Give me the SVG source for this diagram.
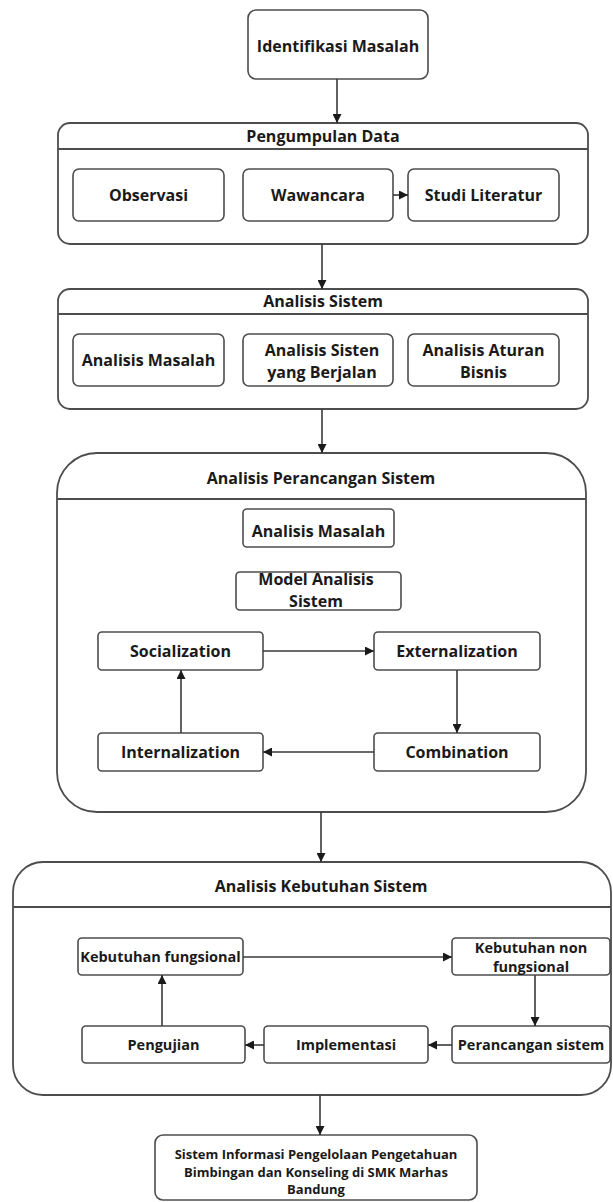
<svg xmlns="http://www.w3.org/2000/svg" width="613" height="1202" viewBox="0 0 613 1202">
<style>
.box{fill:#fff;stroke:#4d4d4d;stroke-width:1.6}
.cont{fill:#fff;stroke:#4d4d4d;stroke-width:1.8}
.sep{stroke:#4d4d4d;stroke-width:1.8;fill:none}
.t{font-family:"Open Sans","Liberation Sans",sans-serif;font-weight:bold;font-size:16px;fill:#1a1a1a;text-anchor:middle}
.k{font-size:14.5px}
.s{font-size:13px}
.c{stroke:#3a3a3a;stroke-width:1.6;fill:none;marker-end:url(#ah)}
</style>
<defs>
<marker id="ah" viewBox="0 0 10 10" refX="10" refY="5" markerWidth="9" markerHeight="9" markerUnits="userSpaceOnUse" orient="auto">
<path d="M0,0 L10,5 L0,10 z" fill="#1a1a1a"/>
</marker>
</defs>
<rect width="613" height="1202" fill="#fff"/>

<g id="identifikasi">
<rect class="box" x="248" y="10" width="180" height="69" rx="8"/>
<text class="t" x="338" y="52">Identifikasi Masalah</text>
</g>

<g id="pengumpulan-data">
<rect class="cont" x="58" y="123" width="530" height="121" rx="12"/>
<line class="sep" x1="58" y1="149" x2="588" y2="149"/>
<text class="t" x="323" y="142">Pengumpulan Data</text>
</g>
<g id="observasi">
<rect class="box" x="73" y="169" width="151" height="52" rx="6"/>
<text class="t" x="148.5" y="201">Observasi</text>
</g>
<g id="wawancara">
<rect class="box" x="243" y="169" width="150" height="52" rx="6"/>
<text class="t" x="318" y="201">Wawancara</text>
</g>
<g id="studi-literatur">
<rect class="box" x="408" y="169" width="151" height="52" rx="6"/>
<text class="t" x="483.5" y="201">Studi Literatur</text>
</g>

<g id="analisis-sistem">
<rect class="cont" x="58" y="289" width="530" height="120" rx="12"/>
<line class="sep" x1="58" y1="314" x2="588" y2="314"/>
<text class="t" x="323" y="307">Analisis Sistem</text>
</g>
<g id="analisis-masalah-1">
<rect class="box" x="73" y="334" width="151" height="52" rx="6"/>
<text class="t" x="148.5" y="366">Analisis Masalah</text>
</g>
<g id="analisis-sisten-berjalan">
<rect class="box" x="243" y="334" width="150" height="52" rx="6"/>
<text class="t" x="322" y="356">Analisis Sisten</text>
<text class="t" x="322" y="378">yang Berjalan</text>
</g>
<g id="analisis-aturan-bisnis">
<rect class="box" x="408" y="334" width="151" height="52" rx="6"/>
<text class="t" x="483.5" y="356">Analisis Aturan</text>
<text class="t" x="483.5" y="378">Bisnis</text>
</g>

<g id="analisis-perancangan">
<rect class="cont" x="57" y="453" width="529" height="359" rx="40"/>
<line class="sep" x1="57" y1="499" x2="586" y2="499"/>
<text class="t" x="321" y="484">Analisis Perancangan Sistem</text>
</g>
<g id="analisis-masalah-2">
<rect class="box" x="243" y="509" width="151" height="38" rx="4"/>
<text class="t" x="318.5" y="537">Analisis Masalah</text>
</g>
<g id="model-analisis-sistem">
<rect class="box" x="236" y="572" width="165" height="38" rx="4"/>
<text class="t" x="316" y="585">Model Analisis</text>
<text class="t" x="316" y="607">Sistem</text>
</g>
<g id="socialization">
<rect class="box" x="98" y="632" width="165" height="38" rx="4"/>
<text class="t" x="180.5" y="657">Socialization</text>
</g>
<g id="externalization">
<rect class="box" x="374" y="632" width="166" height="38" rx="4"/>
<text class="t" x="457" y="657">Externalization</text>
</g>
<g id="internalization">
<rect class="box" x="98" y="733" width="165" height="38" rx="4"/>
<text class="t" x="180.5" y="758">Internalization</text>
</g>
<g id="combination">
<rect class="box" x="374" y="733" width="166" height="38" rx="4"/>
<text class="t" x="457" y="758">Combination</text>
</g>

<g id="analisis-kebutuhan">
<rect class="cont" x="13" y="862" width="598" height="233" rx="30"/>
<line class="sep" x1="13" y1="907" x2="611" y2="907"/>
<text class="t" x="321" y="892">Analisis Kebutuhan Sistem</text>
</g>
<g id="kebutuhan-fungsional">
<rect class="box" x="78" y="938" width="165" height="37" rx="4"/>
<text class="t k" x="160.5" y="962">Kebutuhan fungsional</text>
</g>
<g id="kebutuhan-non-fungsional">
<rect class="box" x="452" y="938" width="158" height="37" rx="4"/>
<text class="t k" x="531" y="953">Kebutuhan non</text>
<text class="t k" x="531" y="972">fungsional</text>
</g>
<g id="perancangan-sistem">
<rect class="box" x="452" y="1026" width="158" height="37" rx="4"/>
<text class="t k" x="531" y="1050">Perancangan sistem</text>
</g>
<g id="implementasi">
<rect class="box" x="264" y="1026" width="164" height="37" rx="4"/>
<text class="t k" x="346" y="1050">Implementasi</text>
</g>
<g id="pengujian">
<rect class="box" x="82" y="1026" width="163" height="37" rx="4"/>
<text class="t k" x="163.5" y="1050">Pengujian</text>
</g>

<g id="sistem-informasi">
<rect class="box" x="155" y="1135" width="322" height="65" rx="8"/>
<text class="t s" x="316" y="1159">Sistem Informasi Pengelolaan Pengetahuan</text>
<text class="t s" x="316" y="1177">Bimbingan dan Konseling di SMK Marhas</text>
<text class="t s" x="316" y="1194">Bandung</text>
</g>

<g id="connectors">
<line class="c" x1="337" y1="79" x2="337" y2="123"/>
<line class="c" x1="393" y1="195" x2="408" y2="195"/>
<line class="c" x1="322" y1="244" x2="322" y2="289"/>
<line class="c" x1="322" y1="409" x2="322" y2="453"/>
<line class="c" x1="263" y1="651" x2="374" y2="651"/>
<line class="c" x1="457" y1="670" x2="457" y2="733"/>
<line class="c" x1="374" y1="752" x2="263" y2="752"/>
<line class="c" x1="181" y1="733" x2="181" y2="670"/>
<line class="c" x1="321" y1="812" x2="321" y2="862"/>
<line class="c" x1="243" y1="957" x2="452" y2="957"/>
<line class="c" x1="535" y1="975" x2="535" y2="1026"/>
<line class="c" x1="452" y1="1045" x2="428" y2="1045"/>
<line class="c" x1="264" y1="1045" x2="245" y2="1045"/>
<line class="c" x1="162" y1="1026" x2="162" y2="975"/>
<line class="c" x1="320" y1="1095" x2="320" y2="1135"/>
</g>
</svg>
